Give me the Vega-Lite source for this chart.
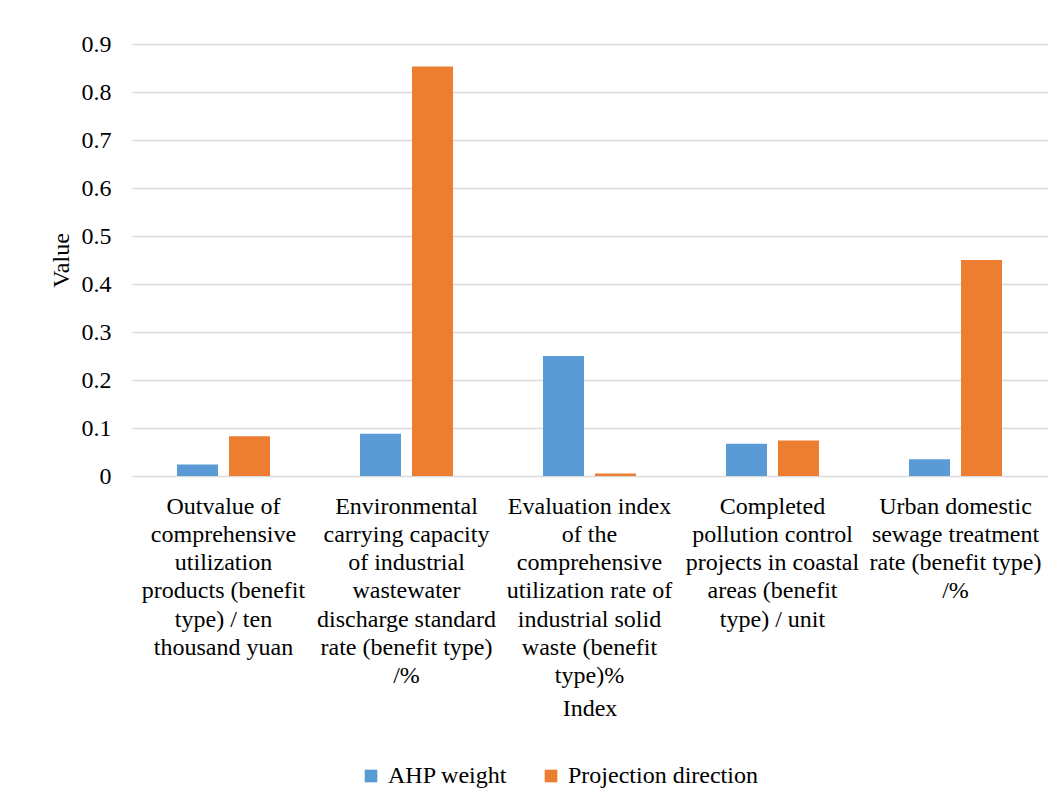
{
  "$schema": "https://vega.github.io/schema/vega-lite/v6.json",
  "autosize": {"type": "none"},
  "width": 915,
  "height": 432,
  "padding": {"left": 132, "top": 44, "right": 17, "bottom": 332},
  "background": "#ffffff",
  "data": {
    "values": [
      {"Index": "Outvalue of comprehensive utilization products (benefit type) / ten thousand yuan", "Series": "AHP weight", "Value": 0.024},
      {"Index": "Outvalue of comprehensive utilization products (benefit type) / ten thousand yuan", "Series": "Projection direction", "Value": 0.083},
      {"Index": "Environmental carrying capacity of industrial wastewater discharge standard rate (benefit type) /%", "Series": "AHP weight", "Value": 0.088},
      {"Index": "Environmental carrying capacity of industrial wastewater discharge standard rate (benefit type) /%", "Series": "Projection direction", "Value": 0.853},
      {"Index": "Evaluation index of the comprehensive utilization rate of industrial solid waste (benefit type)%", "Series": "AHP weight", "Value": 0.25},
      {"Index": "Evaluation index of the comprehensive utilization rate of industrial solid waste (benefit type)%", "Series": "Projection direction", "Value": 0.005},
      {"Index": "Completed pollution control projects in coastal areas (benefit type) / unit", "Series": "AHP weight", "Value": 0.067},
      {"Index": "Completed pollution control projects in coastal areas (benefit type) / unit", "Series": "Projection direction", "Value": 0.074},
      {"Index": "Urban domestic sewage treatment rate (benefit type) /%", "Series": "AHP weight", "Value": 0.035},
      {"Index": "Urban domestic sewage treatment rate (benefit type) /%", "Series": "Projection direction", "Value": 0.45}
    ]
  },
  "mark": {"type": "bar"},
  "encoding": {
    "x": {
      "field": "Index",
      "type": "nominal",
      "sort": null,
      "scale": {"paddingInner": 0, "paddingOuter": 0},
      "axis": {
        "title": "Index",
        "labelAngle": 0,
        "labelAlign": "center",
        "labelBaseline": "top",
        "labelPadding": 18,
        "labelLineHeight": 28.3,
        "labelLimit": 0,
        "titlePadding": 20,
        "domain": false,
        "ticks": false,
        "labelExpr": "datum.value == 'Outvalue of comprehensive utilization products (benefit type) / ten thousand yuan' ? ['Outvalue of', 'comprehensive', 'utilization', 'products (benefit', 'type) / ten', 'thousand yuan'] : datum.value == 'Environmental carrying capacity of industrial wastewater discharge standard rate (benefit type) /%' ? ['Environmental', 'carrying capacity', 'of industrial', 'wastewater', 'discharge standard', 'rate (benefit type)', '/%'] : datum.value == 'Evaluation index of the comprehensive utilization rate of industrial solid waste (benefit type)%' ? ['Evaluation index', 'of the', 'comprehensive', 'utilization rate of', 'industrial solid', 'waste (benefit', 'type)%'] : datum.value == 'Completed pollution control projects in coastal areas (benefit type) / unit' ? ['Completed', 'pollution control', 'projects in coastal', 'areas (benefit', 'type) / unit'] : ['Urban domestic', 'sewage treatment', 'rate (benefit type)', '/%']"
      }
    },
    "xOffset": {
      "field": "Series",
      "type": "nominal",
      "scale": {"paddingInner": 0.2115, "paddingOuter": 0.865}
    },
    "y": {
      "field": "Value",
      "type": "quantitative",
      "scale": {"domain": [0, 0.9]},
      "axis": {
        "title": "Value",
        "values": [0, 0.1, 0.2, 0.3, 0.4, 0.5, 0.6, 0.7, 0.8, 0.9],
        "format": "~g",
        "domain": false,
        "ticks": false,
        "labelPadding": 21,
        "titlePadding": 8
      }
    },
    "color": {
      "field": "Series",
      "type": "nominal",
      "scale": {"domain": ["AHP weight", "Projection direction"], "range": ["#5b9bd5", "#ed7d31"]},
      "legend": {
        "title": null,
        "orient": "none",
        "direction": "horizontal",
        "legendX": 227,
        "legendY": 720,
        "symbolType": "square",
        "symbolSize": 160,
        "symbolStrokeWidth": 0,
        "labelOffset": 5,
        "columnPadding": 31,
        "labelLimit": 400,
        "labelFontSize": 24,
        "labelFont": "Liberation Serif",
        "labelColor": "#000000"
      }
    }
  },
  "config": {
    "view": {"stroke": null},
    "axis": {
      "labelFont": "Liberation Serif",
      "titleFont": "Liberation Serif",
      "labelFontSize": 24,
      "titleFontSize": 24,
      "titleFontWeight": "normal",
      "labelColor": "#000000",
      "titleColor": "#000000",
      "gridColor": "#d9d9d9",
      "gridWidth": 1.5
    },
    "axisX": {"grid": false},
    "axisY": {"grid": true}
  }
}
